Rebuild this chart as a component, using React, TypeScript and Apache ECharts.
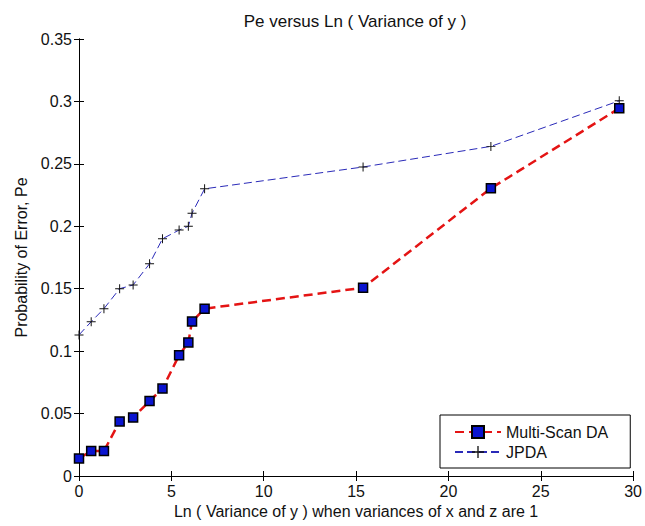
import React, { useEffect, useRef } from "react";
import * as echarts from "echarts";

// ln(variance of y) sample points, shared by both trackers
const lnVariance = [0, 0.66, 1.35, 2.2, 2.93, 3.82, 4.52, 5.42, 5.92, 6.12, 6.8, 15.38, 22.3, 29.25];
// probability of error for each tracker
const multiScanDA = [0.014, 0.02, 0.02, 0.0437, 0.0468, 0.06, 0.07, 0.0967, 0.107, 0.1237, 0.134, 0.1508, 0.2304, 0.2945];
const jpda = [0.113, 0.1236, 0.134, 0.15, 0.153, 0.17, 0.19, 0.197, 0.2, 0.2105, 0.23, 0.2475, 0.264, 0.3005];
const xTicks = [0, 5, 10, 15, 20, 25, 30];
const yTicks = [0, 0.05, 0.1, 0.15, 0.2, 0.25, 0.3, 0.35];

const FONT = "'Liberation Sans', Arial, sans-serif";
const PLUS = "path://M4.45,0h1.1v4.45h4.45v1.1h-4.45v4.45h-1.1v-4.45h-4.45v-1.1h4.45z";

export default function App() {
  const ref = useRef<HTMLDivElement>(null);

  useEffect(() => {
    if (!ref.current) return;
    const chart = echarts.init(ref.current, undefined, { renderer: "svg" });
    const pair = (ys: number[]) => lnVariance.map((x, i) => [x, ys[i]]);
    const axisLine = { show: true, lineStyle: { color: "#000", width: 1 } };
    const tick = { show: true, inside: true, length: 5, lineStyle: { color: "#000" } };
    const label = { color: "#111", fontSize: 16, fontFamily: FONT };

    chart.setOption({
      animation: false,
      backgroundColor: "#fff",
      title: {
        text: "Pe versus Ln ( Variance of y )",
        left: 350,
        top: 8,
        textAlign: "center",
        textStyle: { fontSize: 17, fontWeight: "normal", color: "#111", fontFamily: FONT },
      },
      grid: { left: 79, right: 10, top: 39, bottom: 50 },
      xAxis: [
        {
          type: "value",
          min: xTicks[0],
          max: xTicks[xTicks.length - 1],
          interval: 5,
          position: "bottom",
          axisLine,
          axisTick: tick,
          splitLine: { show: false },
          axisLabel: { ...label, margin: 7 },
          name: "Ln ( Variance of y ) when variances of x and z are 1",
          nameLocation: "middle",
          nameGap: 27,
          nameTextStyle: { ...label },
        },
        {
          type: "value",
          min: xTicks[0],
          max: xTicks[xTicks.length - 1],
          interval: 5,
          position: "top",
          axisLine,
          axisTick: tick,
          splitLine: { show: false },
          axisLabel: { show: false },
        },
      ],
      yAxis: [
        {
          type: "value",
          min: yTicks[0],
          max: yTicks[yTicks.length - 1],
          interval: 0.05,
          position: "left",
          axisLine,
          axisTick: tick,
          splitLine: { show: false },
          axisLabel: { ...label, margin: 7 },
          name: "Probability of Error, Pe",
          nameLocation: "middle",
          nameGap: 49,
          nameTextStyle: { ...label },
        },
        {
          type: "value",
          min: yTicks[0],
          max: yTicks[yTicks.length - 1],
          interval: 0.05,
          position: "right",
          axisLine,
          axisTick: tick,
          splitLine: { show: false },
          axisLabel: { show: false },
        },
      ],
      legend: {
        orient: "vertical",
        left: 440,
        top: 415,
        padding: [9, 22, 8, 14],
        itemGap: 4,
        itemWidth: 46,
        itemHeight: 15,
        borderColor: "#000",
        borderWidth: 1,
        backgroundColor: "#fff",
        textStyle: { ...label },
        data: ["Multi-Scan DA", "JPDA"],
      },
      series: [
        {
          name: "JPDA",
          type: "line",
          data: pair(jpda),
          symbol: PLUS,
          symbolSize: 9,
          showAllSymbol: true,
          itemStyle: { color: "#111", borderWidth: 0 },
          lineStyle: { color: "#2a2ab8", width: 1, type: [8, 4] },
          z: 2,
        },
        {
          name: "Multi-Scan DA",
          type: "line",
          data: pair(multiScanDA),
          symbol: "rect",
          symbolSize: 9,
          showAllSymbol: true,
          itemStyle: { color: "#0a14d0", borderColor: "#000", borderWidth: 1.5 },
          lineStyle: { color: "#e41414", width: 2.5, type: [9, 5] },
          z: 3,
        },
      ],
    });
    return () => chart.dispose();
  }, []);

  return (
    <div
      ref={ref}
      style={{ position: "fixed", left: 0, top: 0, width: 645, height: 526 }}
    />
  );
}
